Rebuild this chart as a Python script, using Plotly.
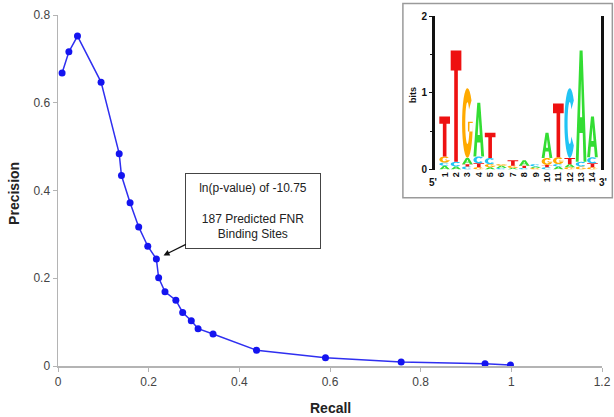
import numpy as np
import plotly.graph_objects as go

# ---------------- data ----------------
recall = [0.009, 0.024, 0.043, 0.095, 0.135, 0.140, 0.159, 0.178, 0.198, 0.217,
          0.222, 0.236, 0.260, 0.275, 0.294, 0.309, 0.342, 0.438, 0.590, 0.757,
          0.942, 0.998]
precision = [0.668, 0.716, 0.752, 0.647, 0.484, 0.434, 0.372, 0.317, 0.273, 0.244,
             0.201, 0.169, 0.150, 0.122, 0.103, 0.085, 0.073, 0.036, 0.019, 0.009,
             0.005, 0.002]

x_ticks = [0, 0.2, 0.4, 0.6, 0.8, 1, 1.2]
y_ticks = [0, 0.2, 0.4, 0.6, 0.8]

annot_index = 9
annot_text = "ln(p-value) of -10.75<br><br>187 Predicted FNR<br>Binding Sites"

# sequence logo: per position, stack from bottom to top (letter, bits)
logo_positions = list(range(1, 15))
logo_stacks = [
    [("A", 0.05), ("C", 0.04), ("G", 0.08), ("T", 0.52)],
    [("A", 0.04), ("C", 0.06), ("T", 1.45)],
    [("C", 0.04), ("T", 0.03), ("A", 0.08), ("G", 0.91)],
    [("G", 0.03), ("T", 0.05), ("C", 0.09), ("A", 0.70)],
    [("A", 0.03), ("G", 0.04), ("C", 0.08), ("T", 0.33)],
    [("C", 0.02), ("A", 0.03), ("G", 0.02)],
    [("A", 0.02), ("G", 0.03), ("T", 0.07)],
    [("C", 0.02), ("T", 0.03), ("A", 0.07)],
    [("G", 0.02), ("A", 0.02), ("C", 0.03)],
    [("C", 0.03), ("T", 0.03), ("G", 0.09), ("A", 0.33)],
    [("A", 0.04), ("C", 0.03), ("G", 0.09), ("T", 0.70)],
    [("G", 0.03), ("A", 0.04), ("T", 0.08), ("C", 0.91)],
    [("G", 0.04), ("C", 0.06), ("A", 1.45)],
    [("G", 0.03), ("T", 0.05), ("C", 0.08), ("A", 0.53)],
]
bits_ticks = [0, 1, 2]

# ---------------- styles ----------------
FONT = "Liberation Sans, Arial, sans-serif"
letter_colors = {"A": "#33dd33", "C": "#22c4f4", "G": "#ffaa00", "T": "#ee1111"}
axis_gray = "#b4b4b4"


# ---------------- glyph outlines (unit box) ----------------
def ring(a0, a1, n=28, ri=(0.2, 0.3)):
    t = np.linspace(np.radians(a0), np.radians(a1), n)
    outer = [(0.5 + 0.5 * np.cos(a), 0.5 + 0.5 * np.sin(a)) for a in t]
    inner = [(0.5 + ri[0] * np.cos(a), 0.5 + ri[1] * np.sin(a)) for a in t[::-1]]
    return outer + inner


GLYPHS = {
    "T": [[(0, 1), (0, 0.82), (0.33, 0.82), (0.33, 0), (0.67, 0), (0.67, 0.82), (1, 0.82), (1, 1)]],
    "A": [[(0, 0), (0.27, 0), (0.35, 0.26), (0.65, 0.26), (0.73, 0), (1, 0), (0.64, 1), (0.36, 1)],
          [(0.40, 0.40), (0.5, 0.74), (0.60, 0.40)]],
    "C": [ring(40, 320)],
    "G": [ring(40, 360), [(0.55, 0.38), (1.0, 0.38), (1.0, 0.52), (0.55, 0.52)]],
}


def glyph_path(letter, xc, y0, h, w=0.94):
    parts = []
    for poly in GLYPHS[letter]:
        pts = [(xc - w / 2 + px * w, y0 + py * h) for px, py in poly]
        parts.append("M " + " L ".join(f"{x:.4f},{y:.4f}" for x, y in pts) + " Z")
    return " ".join(parts)


fig = go.Figure()

# main curve
fig.add_trace(go.Scatter(
    x=recall, y=precision, mode="lines+markers",
    line=dict(color="#2f2ff0", width=1.5),
    marker=dict(color="#1414f0", size=7),
    showlegend=False, hoverinfo="skip"))

# dummy trace for inset axes
fig.add_trace(go.Scatter(x=[logo_positions[0]], y=[0], xaxis="x2", yaxis="y2",
                         mode="markers", marker=dict(opacity=0), showlegend=False,
                         hoverinfo="skip"))

shapes = []
# inset frame
shapes.append(dict(type="rect", xref="paper", yref="paper",
                   x0=0.634, x1=1.019, y0=0.479, y1=1.033,
                   line=dict(color="#9a9a9a", width=1.5), fillcolor="white",
                   layer="below"))

for pos, stack in zip(logo_positions, logo_stacks):
    y0 = 0.0
    for letter, h in stack:
        shapes.append(dict(type="path", xref="x2", yref="y2",
                           path=glyph_path(letter, pos, y0, h),
                           fillcolor=letter_colors[letter],
                           line=dict(width=0), layer="above"))
        y0 += h

annotations = [
    dict(x=recall[annot_index], y=precision[annot_index], xref="x", yref="y",
         text=annot_text, showarrow=True, ax=97, ay=-48, standoff=8,
         arrowhead=2, arrowsize=1, arrowwidth=1.2, arrowcolor="#111",
         font=dict(family=FONT, size=12, color="#222"),
         bordercolor="#444", borderwidth=1, borderpad=6, bgcolor="white",
         width=122, height=62, align="center"),
    dict(text="<b>Recall</b>", xref="paper", yref="paper", x=0.5, y=-0.12,
         showarrow=False, font=dict(family=FONT, size=14, color="#222"),
         xanchor="center", yanchor="middle"),
    dict(text="<b>Precision</b>", xref="paper", yref="paper", x=-0.081, y=0.493,
         showarrow=False, textangle=-90,
         font=dict(family=FONT, size=14, color="#222"),
         xanchor="center", yanchor="middle"),
    dict(text="<b>bits</b>", xref="paper", yref="paper", x=(413 - 58) / 544,
         y=(366 - 95) / 351, showarrow=False, textangle=-90,
         font=dict(family=FONT, size=9, color="#111"),
         xanchor="center", yanchor="middle"),
    dict(text="<b>5'</b>", xref="paper", yref="paper", x=(433 - 58) / 544,
         y=(366 - 182) / 351, showarrow=False,
         font=dict(family=FONT, size=10, color="#111"),
         xanchor="center", yanchor="middle"),
    dict(text="<b>3'</b>", xref="paper", yref="paper", x=(603 - 58) / 544,
         y=(366 - 182) / 351, showarrow=False,
         font=dict(family=FONT, size=10, color="#111"),
         xanchor="center", yanchor="middle"),
]

fig.update_layout(
    width=614, height=417,
    margin=dict(l=58, r=12, t=15, b=51, autoexpand=False),
    paper_bgcolor="white", plot_bgcolor="white",
    showlegend=False,
    font=dict(family=FONT, size=12, color="#444"),
    xaxis=dict(range=[0, 1.2], tickvals=x_ticks, showgrid=False, zeroline=False,
               showline=True, linecolor=axis_gray, linewidth=1.5,
               ticks="outside", ticklen=4, tickcolor=axis_gray,
               tickfont=dict(family=FONT, size=12, color="#444"),
               domain=[0, 1], fixedrange=True, automargin=False),
    yaxis=dict(range=[0, 0.8], tickvals=y_ticks, showgrid=False, zeroline=False,
               showline=True, linecolor=axis_gray, linewidth=1.5,
               ticks="outside", ticklen=4, tickcolor=axis_gray,
               tickfont=dict(family=FONT, size=12, color="#444"),
               domain=[0, 1], fixedrange=True, automargin=False),
    xaxis2=dict(domain=[(435 - 58) / 544, (601 - 58) / 544], anchor="y2",
                range=[0.15, 14.75], tickvals=logo_positions,
                ticktext=[f"<b>{p}</b>" for p in logo_positions], tickangle=-90,
                tickfont=dict(family=FONT, size=9, color="#111"),
                showgrid=False, zeroline=False, showline=False, ticks="",
                fixedrange=True, automargin=False),
    yaxis2=dict(domain=[(366 - 169.5) / 351, (366 - 16) / 351], anchor="x2",
                range=[0, 2], tickvals=bits_ticks,
                ticktext=[f"<b>{b}</b>" for b in bits_ticks],
                tickfont=dict(family=FONT, size=10, color="#111"),
                showgrid=False, zeroline=False, showline=True, mirror=True,
                linecolor="#111", linewidth=3, ticks="outside", ticklen=3,
                tickcolor="#111",
                minor=dict(tickvals=[0.5, 1.5], ticks="outside", ticklen=2,
                           tickcolor="#111"),
                fixedrange=True, automargin=False),
    shapes=shapes,
    annotations=annotations,
)

fig.write_html("out.html",
               config={"displayModeBar": False, "staticPlot": True},
               post_script="document.body.style.margin='0px';"
                           "document.body.style.overflow='hidden';")
